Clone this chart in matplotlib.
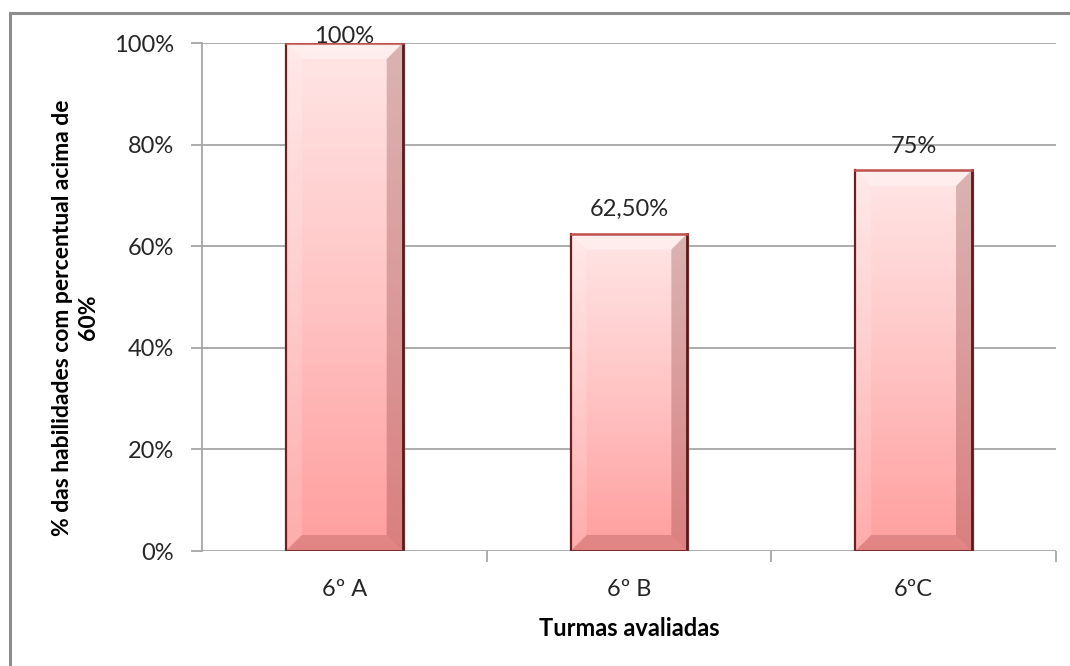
import matplotlib
matplotlib.use("Agg")
import matplotlib.pyplot as plt
import numpy as np
from matplotlib.patches import Polygon, Rectangle
from matplotlib.colors import LinearSegmentedColormap
from matplotlib.ticker import FixedLocator

categories = ["6º A", "6º B", "6ºC"]
values = [100, 62.5, 75]
labels = ["100%", "62,50%", "75%"]
yticks = [0, 20, 40, 60, 80, 100]
ytick_labels = ["0%", "20%", "40%", "60%", "80%", "100%"]

plt.rcParams['font.family'] = ['Lato', 'DejaVu Sans']

W, H = 1070, 666
fig = plt.figure(figsize=(W / 100, H / 100), dpi=100)
ax = fig.add_axes([202 / W, 1 - 551 / H, (1056 - 202) / W, (551 - 43) / H])

# outer chart frame
frame = Rectangle((10 / W, -0.05), 1.1, 1 - 13 / H + 0.05, transform=fig.transFigure,
                  fill=False, edgecolor="#8c8c8c", linewidth=2.2, zorder=0)
fig.patches.append(frame)

x = np.arange(len(categories))
bw = 0.41
ax.set_xlim(-0.5, len(categories) - 0.5)
ax.set_ylim(0, 100)

for yv in yticks:
    ax.axhline(yv, color="#a6a6a6", linewidth=1.3, zorder=1)

cmap = LinearSegmentedColormap.from_list("pk", ["#ff9e9e", "#ffc4c4", "#ffe6e6"])
grad = np.linspace(0, 1, 256).reshape(-1, 1)

# bevel sizes in data units from pixel sizes
px_x = 1.0 / 285.0
px_y = 100.0 / 508.0
bx = 16 * px_x
by = 16 * px_y

for xi, v in zip(x, values):
    l, r = xi - bw / 2, xi + bw / 2
    ax.add_patch(Rectangle((l + 3 * px_x, 0), bw, v - 2 * px_y, facecolor="#bbbbbb",
                           alpha=0.35, edgecolor="none", zorder=2))
    ax.imshow(grad, extent=(l, r, 0, v), origin="lower", aspect="auto",
              cmap=cmap, zorder=3, interpolation="bilinear")
    top = Polygon([(l, v), (r, v), (r - bx, v - by), (l + bx, v - by)],
                  facecolor="white", alpha=0.35, edgecolor="none", zorder=4)
    left = Polygon([(l, 0), (l, v), (l + bx, v - by), (l + bx, by)],
                   facecolor="white", alpha=0.15, edgecolor="none", zorder=4)
    right = Polygon([(r, 0), (r, v), (r - bx, v - by), (r - bx, by)],
                    facecolor="#7a3030", alpha=0.28, edgecolor="none", zorder=4)
    bottom = Polygon([(l, 0), (r, 0), (r - bx, by), (l + bx, by)],
                     facecolor="#7a2a2a", alpha=0.22, edgecolor="none", zorder=4)
    for p in (top, left, right, bottom):
        ax.add_patch(p)
    ax.plot([l, l], [0, v], color="#6a2020", linewidth=1.6, zorder=5)
    ax.plot([r, r], [0, v], color="#5a1a1a", linewidth=2.0, zorder=5)
    ax.plot([l, r], [v, v], color="#c0504d", linewidth=1.8, zorder=5)
    ax.plot([l, r], [0, 0], color="#7a2a2a", linewidth=1.4, zorder=5)

for xi, v, lab in zip(x, values, labels):
    ty = min(v + 4.7, 101.2)
    ax.text(xi, ty, lab, ha="center", va="center", fontsize=17, color="#262626", zorder=6)

for s in ["top", "right"]:
    ax.spines[s].set_visible(False)
ax.spines["left"].set_color("#a6a6a6")
ax.spines["left"].set_linewidth(1.3)
ax.spines["bottom"].set_visible(False)

ax.set_yticks(yticks)
ax.set_yticklabels(ytick_labels, fontsize=17, color="#262626")
ax.tick_params(axis="y", length=8, width=1.3, color="#a6a6a6", pad=12)

ax.set_xticks(x)
ax.set_xticklabels(categories, fontsize=17, color="#262626")
ax.tick_params(axis="x", length=0, pad=20)
ax.xaxis.set_minor_locator(FixedLocator([0.5, 1.5, 2.5]))
ax.tick_params(axis="x", which="minor", length=8, width=1.3, color="#a6a6a6")

ax.set_xlabel("Turmas avaliadas", fontsize=17, fontweight="bold", color="#000000")
ax.xaxis.set_label_coords(0.5, -0.13)
ax.set_ylabel("% das habilidades com percentual acima de\n60%", fontsize=16.5,
              fontweight="bold", color="#000000", linespacing=1.25)
ax.yaxis.set_label_coords(-0.121, 0.46)

fig.savefig("out.png", dpi=100)
